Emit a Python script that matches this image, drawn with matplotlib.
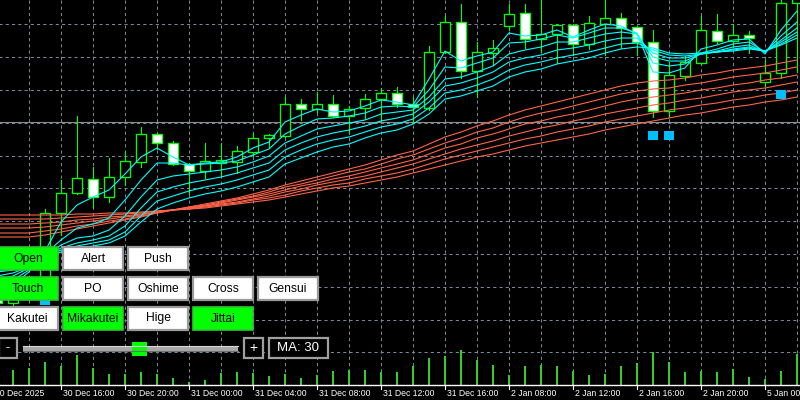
import numpy as np
import matplotlib
matplotlib.use('Agg')
import matplotlib.pyplot as plt
from matplotlib.patches import Rectangle

# hourly bars, index -1 .. 49 ; price levels are in chart rows (top = 0)
bars = np.arange(-1, 50)
opens = [296, 303, 296, 283, 213, 193, 179, 197, 177, 162, 134, 143, 164, 171, 163, 162, 152, 138, 136, 104,
         109, 104, 116, 108, 99, 93, 104, 108, 52, 22, 71, 53, 26, 13, 39, 34, 25, 44, 24, 18,
         27, 42, 111, 76, 63, 31, 41, 35, 82, 73, 3]
highs = [290, 292, 278, 209, 180, 116, 167, 158, 151, 127, 133, 141, 163, 143, 143, 146, 133, 134, 97, 99,
         92, 95, 106, 94, 88, 87, 97, 46, 16, 4, 42, 40, 4, 4, -3, 24, 24, 16, -3, 13,
         26, 30, 62, 56, 16, 14, 24, 31, 60, -5, -20]
lows = [305, 306, 300, 285, 235, 194, 207, 202, 185, 167, 149, 165, 194, 178, 176, 173, 156, 147, 137, 120,
        112, 117, 133, 119, 121, 107, 123, 110, 53, 78, 97, 65, 30, 48, 52, 63, 55, 49, 55, 48,
        55, 117, 117, 80, 64, 43, 47, 53, 86, 78, 72]
closes = [303, 297, 284, 213, 193, 178, 197, 177, 161, 134, 143, 164, 171, 161, 160, 151, 138, 135, 104, 109,
          104, 116, 109, 99, 93, 104, 107, 52, 22, 71, 52, 48, 14, 39, 34, 25, 44, 23, 18, 28,
          42, 111, 75, 62, 30, 41, 35, 38, 73, 3, -10]
volumes = [12, 15, 17, 23, 19, 30, 17, 11, 11, 13, 11, 7, 3, 5, 12, 13, 12, 9, 11, 7,
           10, 14, 15, 15, 13, 13, 19, 27, 29, 35, 25, 20, 10, 19, 20, 19, 14, 10, 11, 19,
           22, 33, 23, 13, 14, 13, 16, 8, 6, 14, 31]

# short GMMA (cyan)
ema3 = [292, 285, 272, 251, 222, 205, 197, 190, 174, 157, 148, 157, 165, 163, 162, 157, 148, 142, 122, 115,
        109, 112, 111, 106, 100, 102, 105, 79, 51, 61, 56, 52, 33, 36, 35, 30, 37, 30, 24, 26,
        34, 72, 73, 68, 49, 45, 40, 39, 54, 30, 11]
ema5 = [285, 280, 270, 254, 240, 228, 224, 218, 200, 180, 163, 163, 165, 164, 163, 161, 155, 149, 134, 126,
        119, 118, 116, 113, 107, 106, 107, 90, 67, 68, 63, 58, 43, 42, 39, 35, 38, 33, 28, 28,
        33, 63, 66, 64, 53, 49, 44, 42, 52, 36, 22]
ema8 = [280, 276, 268, 256, 245, 238, 236, 230, 216, 197, 180, 176, 174, 172, 170, 167, 162, 156, 143, 136,
        129, 126, 123, 120, 114, 112, 110, 97, 79, 77, 72, 66, 54, 50, 47, 42, 42, 38, 34, 32,
        34, 57, 61, 61, 54, 51, 47, 45, 52, 40, 28]
ema10 = [276, 273, 267, 257, 248, 243, 240, 236, 226, 208, 192, 187, 183, 180, 177, 173, 168, 163, 150, 143,
         137, 133, 130, 126, 121, 118, 114, 102, 86, 83, 78, 72, 62, 58, 55, 50, 48, 45, 41, 38,
         38, 53, 58, 58, 54, 52, 49, 47, 51, 42, 32]
ema12 = [272, 270, 266, 258, 250, 246, 243, 240, 232, 216, 201, 196, 191, 187, 184, 180, 175, 170, 157, 150,
         144, 140, 137, 132, 127, 124, 119, 108, 93, 90, 85, 79, 70, 65, 62, 58, 55, 52, 48, 44,
         43, 50, 55, 56, 54, 52, 50, 48, 51, 44, 35]
ema15 = [270, 268, 265, 259, 252, 249, 246, 243, 236, 222, 209, 203, 198, 194, 191, 187, 182, 177, 164, 158,
         152, 147, 144, 138, 133, 130, 124, 114, 99, 96, 91, 86, 77, 72, 69, 64, 61, 58, 53, 49,
         47, 48, 53, 54, 53, 52, 51, 49, 51, 45, 38]

# long GMMA (red)
ema30 = [237, 237, 237, 235, 232, 229, 226, 223, 220, 217, 213, 210, 207, 204, 201, 198, 194, 190, 185, 181,
         177, 173, 169, 165, 160, 155, 151, 144, 137, 132, 126, 121, 115, 110, 106, 102, 98, 94, 90, 86,
         83, 81, 80, 78, 75, 73, 70, 68, 66, 63, 60]
ema35 = [233, 233, 233, 231, 229, 226, 224, 221, 219, 216, 213, 210, 207, 205, 202, 199, 196, 192, 187, 184,
         180, 176, 172, 169, 164, 159, 155, 149, 143, 138, 132, 128, 122, 117, 113, 110, 106, 102, 98, 94,
         91, 89, 88, 85, 83, 80, 77, 75, 73, 70, 67]
ema40 = [228, 228, 228, 227, 225, 223, 221, 219, 217, 215, 212, 210, 208, 206, 203, 200, 197, 194, 190, 186,
         183, 179, 176, 172, 168, 164, 160, 154, 148, 144, 138, 134, 129, 124, 121, 117, 114, 110, 106, 102,
         99, 97, 95, 93, 90, 88, 85, 83, 80, 78, 75]
ema45 = [224, 224, 224, 223, 222, 220, 219, 217, 216, 214, 212, 210, 208, 206, 204, 202, 199, 196, 192, 189,
         185, 182, 179, 176, 172, 168, 164, 159, 154, 149, 145, 141, 136, 132, 128, 125, 121, 118, 114, 111,
         108, 105, 103, 100, 98, 95, 92, 90, 88, 85, 82]
ema50 = [219, 219, 219, 219, 218, 217, 216, 215, 214, 213, 211, 210, 209, 207, 205, 203, 200, 198, 195, 191,
         188, 185, 183, 179, 176, 173, 169, 164, 159, 155, 151, 147, 143, 139, 136, 132, 129, 126, 122, 119,
         116, 113, 110, 108, 105, 103, 100, 98, 95, 93, 90]
ema60 = [215, 215, 215, 215, 215, 214, 214, 213, 213, 212, 211, 210, 209, 208, 206, 204, 202, 200, 197, 194,
         191, 188, 186, 183, 180, 177, 173, 169, 165, 161, 157, 154, 150, 146, 143, 140, 137, 134, 130, 127,
         124, 121, 118, 115, 113, 110, 107, 105, 102, 100, 97]

signal_bars = [2, 40, 41, 48]
signal_lvl = [300, 135.5, 135.5, 94.5]

tick_bars = [-1, 3, 7, 11, 15, 19, 23, 27, 31, 35, 39, 43, 47]
tick_labels = ['30 Dec 2025', '30 Dec 16:00', '30 Dec 20:00', '31 Dec 00:00', '31 Dec 04:00',
               '31 Dec 08:00', '31 Dec 12:00', '31 Dec 16:00', '2 Jan 08:00', '2 Jan 12:00',
               '2 Jan 16:00', '2 Jan 20:00', '5 Jan 00:00']

LIME = '#00FF00'
fig = plt.figure(figsize=(8, 4), dpi=100, facecolor='black')
ax = fig.add_axes([0, 0, 1, 1])
ax.set_facecolor('black')
ax.set_xlim(-0.8125, 49.1875)
ax.set_ylim(400, 0)
ax.axis('off')

# grid
grid_y = 24.3 + 32.8 * np.arange(11)
ax.hlines(grid_y, -1, 50, colors='#778899', linewidth=0.75, linestyles=[(0, (3, 3))], zorder=1)
ax.vlines(np.arange(1, 50, 2), 0, 385, colors='#778899', linewidth=0.75, linestyles=[(0, (3, 3))], zorder=1)
ax.axhline(121.5, color='#8C8C8C', linewidth=0.8, zorder=1.5)

# volumes
ax.bar(bars, -np.array(volumes), bottom=385, width=0.18, color='#32CD32', zorder=2)

# candles
for b, o, h, l, c in zip(bars, opens, highs, lows, closes):
    ax.plot([b, b], [h, l], color=LIME, linewidth=0.8, zorder=3)
    face = 'black' if c < o else 'white'
    ax.add_patch(Rectangle((b - 0.33, min(o, c)), 0.66, max(abs(c - o), 0.6),
                           facecolor=face, edgecolor=LIME, linewidth=0.95, zorder=4))

for s in [ema30, ema35, ema40, ema45, ema50, ema60]:
    ax.plot(bars, s, color='#FF6347', linewidth=0.8, zorder=5)
for s in [ema15, ema12, ema10, ema8, ema5, ema3]:
    ax.plot(bars, s, color='#00FFFF', linewidth=0.8, zorder=6)

ax.scatter(signal_bars, signal_lvl, marker='s', s=44, color='#00BFFF', edgecolors='none', zorder=7)

# time axis
ax.axhline(385, color='white', linewidth=1.0, zorder=8)
for i, (b, t) in enumerate(zip(tick_bars, tick_labels)):
    ax.plot([b, b], [385, 389], color='white', linewidth=0.8, zorder=8)
    tx = b + 0.12 if i > 0 else b - 0.13
    ax.text(tx, 393.5, t, color='white', fontsize=6.2, family='Liberation Sans',
            ha='left', va='center', zorder=8)

# button panel, pixel coordinates
ui = fig.add_axes([0, 0, 1, 1])
ui.set_xlim(0, 800)
ui.set_ylim(400, 0)
ui.axis('off')
ui.patch.set_alpha(0)


def button(x, y, label, on, w=59.5, h=23):
    if on:
        ui.add_patch(Rectangle((x, y), w, h, facecolor=LIME, edgecolor='#2DC82D', linewidth=1.2))
    else:
        ui.add_patch(Rectangle((x, y), w, h, facecolor='white', edgecolor='#9A9A9A', linewidth=1.6))
    ui.text(x + w / 2, y + h / 2 + 0.5, label, color='black', fontsize=8.7,
            family='Liberation Sans', ha='center', va='center')


button(-2, 247, 'Open', True)
button(63.3, 247, 'Alert', False)
button(128.3, 247, 'Push', False)
button(-2, 276.5, 'Touch', True)
button(63.3, 276.5, 'PO', False)
button(128.3, 276.5, 'Oshime', False)
button(193.3, 276.5, 'Cross', False)
button(258.3, 276.5, 'Gensui', False)
button(-2, 306.5, 'Kakutei', False)
button(63.3, 306.5, 'Mikakutei', True)
button(128.3, 306.5, 'Hige', False)
button(193.3, 306.5, 'Jittai', True)

# slider row
for x, w, t, fs in [(-1, 18, '-', 9), (244, 18.5, '+', 10), (268.5, 59, 'MA: 30', 9.5)]:
    ui.add_patch(Rectangle((x, 337.5), w, 20, facecolor='black', edgecolor='#A0A0A0', linewidth=1.6))
    ui.text(x + w / 2, 347.8, t, color='white', fontsize=fs, family='Liberation Sans',
            ha='center', va='center')
ui.add_patch(Rectangle((23, 345.5), 215, 6, facecolor='#A8A8A8', edgecolor='none'))
ui.plot([23, 238], [346, 346], color='#D8D8D8', linewidth=0.8)
ui.plot([23, 238], [351, 351], color='#6E6E6E', linewidth=0.8)
ui.add_patch(Rectangle((132.3, 341.7), 14.4, 14, facecolor=LIME, edgecolor='none'))

fig.savefig('out.png', dpi=100, facecolor='black')
